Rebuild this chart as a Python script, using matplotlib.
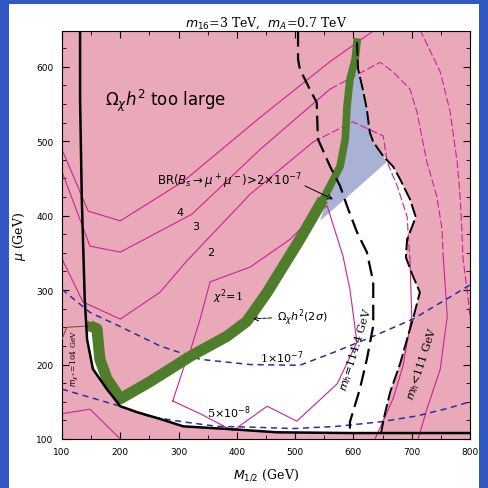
import numpy as np
import matplotlib.pyplot as plt
from matplotlib.patches import Polygon, Rectangle

# axis values (M_1/2, mu) in GeV
bound_M = [131, 131, 134, 139, 143, 153, 177, 200, 229, 268, 308, 393, 469, 594, 800]
bound_mu = [648, 556, 422, 288, 234, 194, 167, 144, 136, 127, 117, 113, 109, 108, 108]

band_M = [148, 160, 165, 177, 200, 251, 320, 383, 417, 452, 508, 548, 577, 586, 589, 594, 603, 606]
band_mu = [252, 248, 207, 181, 154, 177, 211, 238, 258, 297, 368, 422, 466, 503, 547, 583, 610, 633]
edge_M = [100, 108, 148]
edge_mu = [234, 250, 252]

mh111_M = [606, 608, 616, 623, 628, 634, 651, 668, 680, 697, 707, 692, 690, 702, 714, 702, 692, 680, 663, 654, 647]
mh111_mu = [633, 597, 570, 543, 512, 499, 480, 466, 449, 422, 398, 368, 344, 319, 297, 261, 234, 201, 163, 134, 107]

mh114_M = [505, 505, 508, 525, 537, 539, 560, 577, 589, 606, 623, 634, 634, 623, 611, 594, 594]
mh114_mu = [648, 610, 597, 570, 552, 503, 466, 440, 413, 378, 351, 311, 252, 207, 167, 123, 107]

br1_M = [100, 148, 200, 268, 337, 423, 508, 565, 634, 702, 760, 800]
br1_mu = [301, 270, 251, 225, 207, 200, 199, 216, 238, 261, 288, 307]
br5_M = [100, 200, 251, 308, 366, 423, 496, 572, 646, 709, 761, 800]
br5_mu = [167, 144, 130, 123, 117, 116, 114, 117, 123, 131, 141, 150]

# chi^2 contours (left parts solid, upper right parts dashed)
c4_M = [100, 145, 200, 308, 440, 560, 634]
c4_mu = [489, 406, 393, 446, 532, 607, 648]
c4r_M = [714, 749, 766, 778, 783, 786, 788, 797, 800]
c4r_mu = [650, 593, 539, 472, 426, 382, 342, 288, 261]
c3_M = [100, 148, 200, 323, 440, 560]
c3_mu = [459, 359, 351, 402, 489, 570]
c3r_M = [560, 646, 668, 697, 709, 726, 743, 752, 754]
c3r_mu = [570, 606, 593, 570, 539, 472, 426, 382, 346]
c3b_M = [754, 761, 749, 726, 711]
c3b_mu = [346, 265, 194, 140, 100]
c2_M = [100, 136, 200, 268, 314, 423, 531]
c2_mu = [342, 284, 261, 297, 339, 429, 499]
c2r_M = [531, 599, 651, 658, 675, 692, 697]
c2r_mu = [499, 526, 507, 472, 440, 399, 342]
c2b_M = [697, 700, 685, 668, 637]
c2b_mu = [342, 265, 198, 154, 100]
c1_M = [290, 308, 320, 337, 354, 423, 491, 538, 555, 582, 594, 606, 572, 503, 452, 393, 337, 290]
c1_mu = [151, 194, 218, 261, 311, 331, 368, 405, 413, 346, 301, 230, 174, 124, 144, 111, 134, 151]
c0_M = [100, 148, 200]
c0_mu = [134, 140, 100]

lav_M = [543, 586, 589, 594, 603, 606, 608, 616, 623, 628, 634, 651, 657]
lav_mu = [393, 503, 547, 583, 610, 633, 597, 570, 543, 512, 499, 480, 472]

pink = '#eaa9b8'
green = '#4f7d2c'
mag = '#cc2299'
navy = '#2b2f9e'

fig = plt.figure(figsize=(4.89, 4.89), dpi=100, facecolor='#3358c4')
fig.patches.append(Rectangle((9/489, 0/489), 470/489, 484/489, transform=fig.transFigure,
                             facecolor='white', edgecolor='none', zorder=-5))
ax = fig.add_axes([62/489, 49/489, 408/489, 408/489])
ax.set_zorder(2)
ax.set_facecolor(pink)
ax.set_xlim(100, 800)
ax.set_ylim(100, 648)

# allowed (white) region and the blue-grey corner
wx = list(band_M[4:]) + list(mh111_M) + [594, 469, 393, 308, 268, 229, 200]
wy = list(band_mu[4:]) + list(mh111_mu) + [108, 109, 113, 117, 127, 136, 144]
ax.add_patch(Polygon(np.column_stack([wx, wy]), closed=True, facecolor='white', edgecolor='none', zorder=1))
wx2 = [148, 160, 165, 177, 200, 177, 153, 143]
wy2 = [252, 248, 207, 181, 154, 167, 194, 234]
ax.add_patch(Polygon(np.column_stack([wx2, wy2]), closed=True, facecolor='white', edgecolor='none', zorder=1))
ax.add_patch(Polygon(np.column_stack([lav_M, lav_mu]), closed=True, facecolor='#a9b1d4', edgecolor='none', zorder=1))

dash = (0, (7, 2.5))
for xs, ys, ls in [(c4_M, c4_mu, '-'), (c4r_M, c4r_mu, dash), (c3_M, c3_mu, '-'), (c3r_M, c3r_mu, dash),
                   (c3b_M, c3b_mu, '-'), (c2_M, c2_mu, '-'), (c2r_M, c2r_mu, dash), (c2b_M, c2b_mu, '-'),
                   (c1_M, c1_mu, '-'), (c0_M, c0_mu, '-')]:
    ax.plot(xs, ys, color=mag, lw=0.8, ls=ls, zorder=2)

ax.plot(br1_M, br1_mu, color=navy, lw=1.1, ls=(0, (4, 3)), zorder=3)
ax.plot(br5_M, br5_mu, color=navy, lw=1.1, ls=(0, (4, 3)), zorder=3)

ax.plot(band_M[:12], band_mu[:12], color=green, lw=8, solid_joinstyle='round', solid_capstyle='butt', zorder=4)
ax.plot(band_M, band_mu, color=green, lw=5.5, solid_joinstyle='round', zorder=4)
ax.plot(edge_M, edge_mu, color='#8b4a2b', lw=0.8, zorder=4)
ax.plot(bound_M, bound_mu, color='black', lw=1.8, zorder=5)
ax.plot(mh114_M, mh114_mu, color='black', lw=1.6, ls=(0, (7, 3)), zorder=5)
ax.plot(mh111_M, mh111_mu, color='black', lw=1.4, ls=(0, (7, 2)), zorder=5)

sans = 'DejaVu Sans'
serif = 'DejaVu Serif'
ax.text(174, 556, r'$\Omega_\chi h^2$ too large', fontsize=12, family=sans, va='center', zorder=6)
ax.annotate(r'BR($B_s\rightarrow\mu^+\mu^-$)>2$\times10^{-7}$', xy=(565, 422), xytext=(263, 447),
            fontsize=8.5, family=sans, va='center', zorder=6,
            arrowprops=dict(arrowstyle='->', lw=0.7, shrinkA=0, shrinkB=0, relpos=(1, 0.3)))
ax.text(297, 405, '4', fontsize=8, family=sans, va='center', zorder=6)
ax.text(323, 386, '3', fontsize=8, family=sans, va='center', zorder=6)
ax.text(349, 351, '2', fontsize=8, family=sans, va='center', zorder=6)
ax.text(359, 292, r'$\chi^2$=1', fontsize=8, family=serif, va='center', zorder=6)
ax.annotate(r'$\Omega_\chi h^2(2\sigma)$', xy=(423, 261), xytext=(469, 265), fontsize=8, family=serif,
            va='center', arrowprops=dict(arrowstyle='->', ls='--', lw=0.7), zorder=6)
ax.text(440, 211, r'1$\times10^{-7}$', fontsize=8, family=serif, va='center', zorder=6)
ax.text(349, 136, r'5$\times10^{-8}$', fontsize=8, family=serif, va='center', zorder=6)
ax.text(122, 210, r'$m_{\chi^\pm}$=104 GeV', fontsize=5.5, family=serif, rotation=90, ha='center', va='center', zorder=6)
ax.text(604, 221, r'$m_h$=114.4 GeV', fontsize=8, family=serif, rotation=73, ha='center', va='center', zorder=6)
ax.text(718, 203, r'$m_h$<111 GeV', fontsize=8, family=serif, rotation=72, ha='center', va='center', zorder=6)

ax.set_xticks(np.arange(100, 801, 100))
ax.set_yticks(np.arange(100, 601, 100))
ax.set_xticks(np.arange(100, 801, 50), minor=True)
ax.set_yticks(np.arange(100, 648, 25), minor=True)
ax.tick_params(which='both', direction='in', top=True, right=True, labelsize=6.5)
ax.tick_params(which='major', length=5, pad=6)
ax.tick_params(which='minor', length=3)
ax.set_xlabel(r'$M_{1/2}$ (GeV)', fontsize=9, family=serif, labelpad=7)
ax.set_ylabel(r'$\mu$ (GeV)', fontsize=9, family=serif, labelpad=6)
ax.set_title(r'$m_{16}$=3 TeV,  $m_A$=0.7 TeV', fontsize=9, family=serif, pad=4)

fig.savefig('out.png', dpi=100, facecolor=fig.get_facecolor())
